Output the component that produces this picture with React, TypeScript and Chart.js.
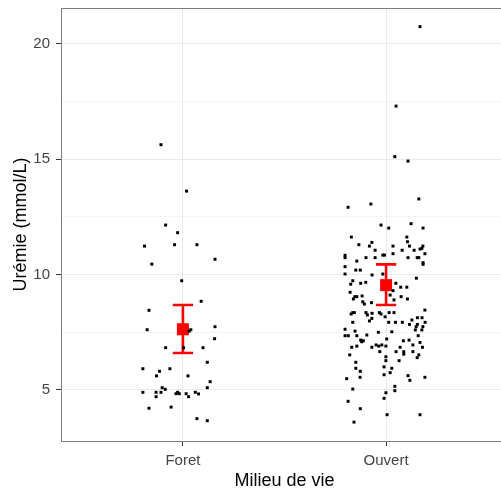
import React, { useEffect, useRef } from 'react';
import { Chart, registerables } from 'chart.js';

Chart.register(...registerables);

const categories = ['Foret', 'Ouvert'];

const foretValues = [15.62, 13.61, 12.14, 11.81, 11.23, 11.29, 11.29, 10.66, 10.45, 9.73, 8.84, 8.45, 7.61, 7.55, 7.61, 7.74, 7.22, 6.83, 6.83, 6.83, 6.2, 5.92, 5.92, 5.81, 5.61, 5.61, 5.36, 5.1, 5.03, 5.1, 4.9, 4.9, 4.9, 4.71, 4.9, 4.84, 4.84, 4.84, 4.71, 4.9, 4.83, 4.21, 4.26, 3.76, 3.67];
const foretJitter = [-0.108, 0.018, -0.085, -0.026, -0.189, -0.041, 0.069, 0.158, -0.153, -0.006, 0.09, -0.167, -0.176, 0.031, 0.039, 0.158, 0.156, -0.085, 0.003, 0.099, 0.12, -0.197, -0.064, -0.115, -0.13, 0.025, 0.134, -0.102, -0.087, 0.12, -0.197, -0.132, -0.108, -0.132, -0.026, -0.018, -0.034, 0.016, 0.028, 0.061, 0.077, -0.167, -0.058, 0.069, 0.12];

const ouvertValues = [20.73, 17.29, 15.1, 14.91, 13.27, 12.91, 13.05, 12.14, 12.01, 12.2,
  12.01, 11.62, 11.62, 11.39, 11.23, 11.29, 11.42, 11.23, 11.23, 11.23,
  11.13, 11.1, 11.05, 11.05, 11.05, 10.83, 10.73, 10.84, 10.84, 10.9,
  10.9, 10.73, 10.73, 10.73, 10.73, 10.73, 10.58, 10.51, 10.44, 10.34,
  10.19, 10.19, 10.02, 9.98, 10.02, 9.84, 9.73, 9.58, 9.62, 9.66,
  9.62, 9.45, 9.45, 9.3, 9.23, 9.04, 9.04, 8.94, 9.07, 9.11,
  9.04, 8.94, 8.82, 8.72, 8.78, 8.9, 8.29, 8.35, 8.35, 8.35,
  8.25, 8.32, 8.35, 8.29, 8.35, 8.35, 8.46, 7.99, 8.1, 8.17,
  8.03, 8.13, 8.13, 7.93, 7.93, 7.93, 7.93, 7.84, 7.84, 7.93,
  7.74, 7.74, 7.63, 7.5, 7.52, 7.6, 7.6, 7.35, 7.55, 7.35,
  7.38, 7.35, 7.35, 7.21, 7.16, 7.13, 7.09, 6.95, 6.95, 7.13,
  7.16, 7.06, 6.85, 6.95, 6.85, 6.85, 6.85, 6.9, 6.9, 6.9,
  6.66, 6.66, 6.66, 6.55, 6.66, 6.52, 6.4, 6.52, 6.44,
  6.27, 6.27, 6.2, 5.94, 6.0, 5.94, 5.81, 5.75, 5.66, 5.62,
  5.55, 5.49, 5.55, 5.42, 5.16, 4.97, 5.04, 4.88, 4.64, 4.51,
  4.19, 3.93, 3.93, 3.61];
const ouvertJitter = [0.167, 0.049, 0.043, 0.108, 0.161, -0.187, -0.075, -0.025, 0.013, 0.123,
  0.182, -0.171, 0.102, -0.07, -0.082, -0.134, 0.105, 0.034, 0.115, 0.181,
  0.176, 0.167, 0.138, 0.079, -0.054, -0.202, -0.202, -0.016, -0.008, 0.034,
  0.191, -0.099, -0.054, 0.108, 0.153, 0.161, -0.144, 0.182, 0.182, -0.202,
  -0.149, -0.127, -0.202, -0.069, -0.016, 0.149, -0.164, -0.174, -0.125, -0.1,
  0.048, 0.072, 0.102, 0.034, -0.177, -0.154, -0.144, -0.161, -0.118, 0.02,
  0.074, 0.105, -0.115, -0.107, -0.072, 0.039, -0.172, -0.164, -0.156, -0.099,
  -0.092, -0.069, -0.033, -0.025, 0.015, 0.039, 0.191, -0.082, -0.07, -0.005,
  0.127, 0.154, 0.177, -0.164, 0.013, 0.046, 0.08, 0.115, 0.154, 0.192,
  0.148, 0.181, -0.202, -0.038, 0.028, 0.144, 0.176, -0.202, -0.153, -0.144,
  -0.095, -0.186, 0.158, 0.003, -0.125, -0.112, -0.12, -0.049, -0.021, 0.085,
  0.113, 0.167, 0.069, 0.132, -0.07, -0.169, 0.179, -0.144, -0.036, -0.001,
  -0.031, 0.049, 0.087, 0.087, 0.132, 0.161, 0.153, -0.179, -0.001,
  -0.001, 0.064, -0.149, -0.149, -0.01, 0.028, -0.127, 0.02, -0.01, 0.108,
  -0.128, -0.194, 0.191, 0.117, 0.043, 0.043, -0.164, -0.001, -0.01, -0.187,
  -0.127, 0.005, 0.167, -0.158];

const groupMeans = [7.63, 9.54];
const groupLower = [6.6, 8.68];
const groupUpper = [8.68, 10.44];

const yMajorTicks = [5, 10, 15, 20];
const yMinorTicks = [7.5, 12.5, 17.5];
const yMin = 2.792;
const yMax = 21.537;
const xMin = 0.4;
const xMax = 2.6;
const errorBarWidth = 0.1;

const FONT = "'Liberation Sans', Arial, sans-serif";

export default function App() {
  const ref = useRef<HTMLCanvasElement>(null);

  useEffect(() => {
    document.body.style.margin = '0';
    const canvas = ref.current;
    if (!canvas) return;

    const toPoints = (cat: number, vals: number[], jit: number[]) =>
      vals.map((v, i) => ({ x: cat + jit[i], y: v }));

    const errorBars = {
      id: 'errorBars',
      beforeDatasetDraw(chart: any, args: any) {
        if (args.index !== 2) return;
        const { ctx, scales } = chart;
        const xs = scales.x;
        const ys = scales.y;
        ctx.save();
        ctx.strokeStyle = '#ff0000';
        ctx.lineWidth = 2.6;
        ctx.lineCap = 'butt';
        categories.forEach((_, i) => {
          const c = i + 1;
          const x = xs.getPixelForValue(c);
          const xl = xs.getPixelForValue(c - errorBarWidth / 2);
          const xr = xs.getPixelForValue(c + errorBarWidth / 2);
          const yh = ys.getPixelForValue(groupUpper[i]);
          const yl = ys.getPixelForValue(groupLower[i]);
          ctx.beginPath();
          ctx.moveTo(x, yh);
          ctx.lineTo(x, yl);
          ctx.moveTo(xl, yh);
          ctx.lineTo(xr, yh);
          ctx.moveTo(xl, yl);
          ctx.lineTo(xr, yl);
          ctx.stroke();
        });
        ctx.restore();
      },
    };

    const panelBorder = {
      id: 'panelBorder',
      afterDraw(chart: any) {
        const { ctx, chartArea } = chart;
        ctx.save();
        ctx.strokeStyle = '#7f7f7f';
        ctx.lineWidth = 1;
        ctx.strokeRect(
          Math.round(chartArea.left) + 0.5,
          Math.round(chartArea.top) + 0.5,
          Math.round(chartArea.right - chartArea.left),
          Math.round(chartArea.bottom - chartArea.top)
        );
        ctx.restore();
      },
    };

    const isMinor = (v: number) => yMinorTicks.includes(v);

    const chart = new Chart(canvas, {
      type: 'scatter',
      data: {
        datasets: [
          {
            data: toPoints(1, foretValues, foretJitter),
            backgroundColor: '#000000',
            borderWidth: 0,
            pointStyle: 'rect',
            pointRadius: 2.1,
          },
          {
            data: toPoints(2, ouvertValues, ouvertJitter),
            backgroundColor: '#000000',
            borderWidth: 0,
            pointStyle: 'rect',
            pointRadius: 2.1,
          },
          {
            data: categories.map((_, i) => ({ x: i + 1, y: groupMeans[i] })),
            backgroundColor: '#ff0000',
            borderWidth: 0,
            pointStyle: 'rect',
            pointRadius: 8.5,
          },
        ],
      },
      options: {
        animation: false,
        responsive: false,
        devicePixelRatio: 1,
        events: [],
        layout: { autoPadding: false, padding: { top: 8, left: 0, right: 0, bottom: 0 } },
        plugins: { legend: { display: false }, tooltip: { enabled: false } },
        scales: {
          x: {
            type: 'linear',
            min: xMin,
            max: xMax,
            afterBuildTicks: (s: any) => {
              s.ticks = categories.map((_, i) => ({ value: i + 1 }));
            },
            afterFit: (s: any) => {
              s.height = 52;
              s.paddingLeft = 0;
              s.paddingRight = 0;
            },
            ticks: {
              autoSkip: false,
              maxRotation: 0,
              padding: 6,
              color: '#444444',
              font: { size: 15, family: FONT },
              callback: (v: any) => categories[Math.round(Number(v)) - 1] ?? '',
            },
            grid: {
              color: '#ebebeb',
              lineWidth: 1,
              tickLength: 5,
              tickColor: '#333333',
            },
            border: { display: false },
            title: {
              display: true,
              text: 'Milieu de vie',
              color: '#000000',
              font: { size: 18, family: FONT },
              padding: { top: 0, bottom: 1 },
            },
          },
          y: {
            type: 'linear',
            min: yMin,
            max: yMax,
            afterBuildTicks: (s: any) => {
              s.ticks = [...yMajorTicks, ...yMinorTicks]
                .sort((a, b) => a - b)
                .map((v) => ({ value: v }));
            },
            afterFit: (s: any) => {
              s.width = 61;
              s.paddingTop = 0;
              s.paddingBottom = 0;
            },
            ticks: {
              padding: 6,
              color: '#444444',
              font: { size: 15, family: FONT },
              callback: (v: any) => (yMajorTicks.includes(Number(v)) ? String(v) : ''),
            },
            grid: {
              color: (c: any) => (c.tick && isMinor(c.tick.value) ? '#f4f4f4' : '#ebebeb'),
              lineWidth: 1,
              tickLength: 5,
              tickColor: (c: any) => (c.tick && isMinor(c.tick.value) ? 'rgba(0,0,0,0)' : '#333333'),
            },
            border: { display: false },
            title: {
              display: true,
              text: 'Urémie (mmol/L)',
              color: '#000000',
              font: { size: 18, family: FONT },
              padding: { top: 10, bottom: 0 },
            },
          },
        },
      },
      plugins: [errorBars, panelBorder],
    } as any);

    return () => chart.destroy();
  }, []);

  return (
    <div style={{ width: 501, height: 493, overflow: 'hidden', position: 'relative' }}>
      <canvas ref={ref} width={508} height={493} style={{ display: 'block', width: 508, height: 493 }} />
    </div>
  );
}
